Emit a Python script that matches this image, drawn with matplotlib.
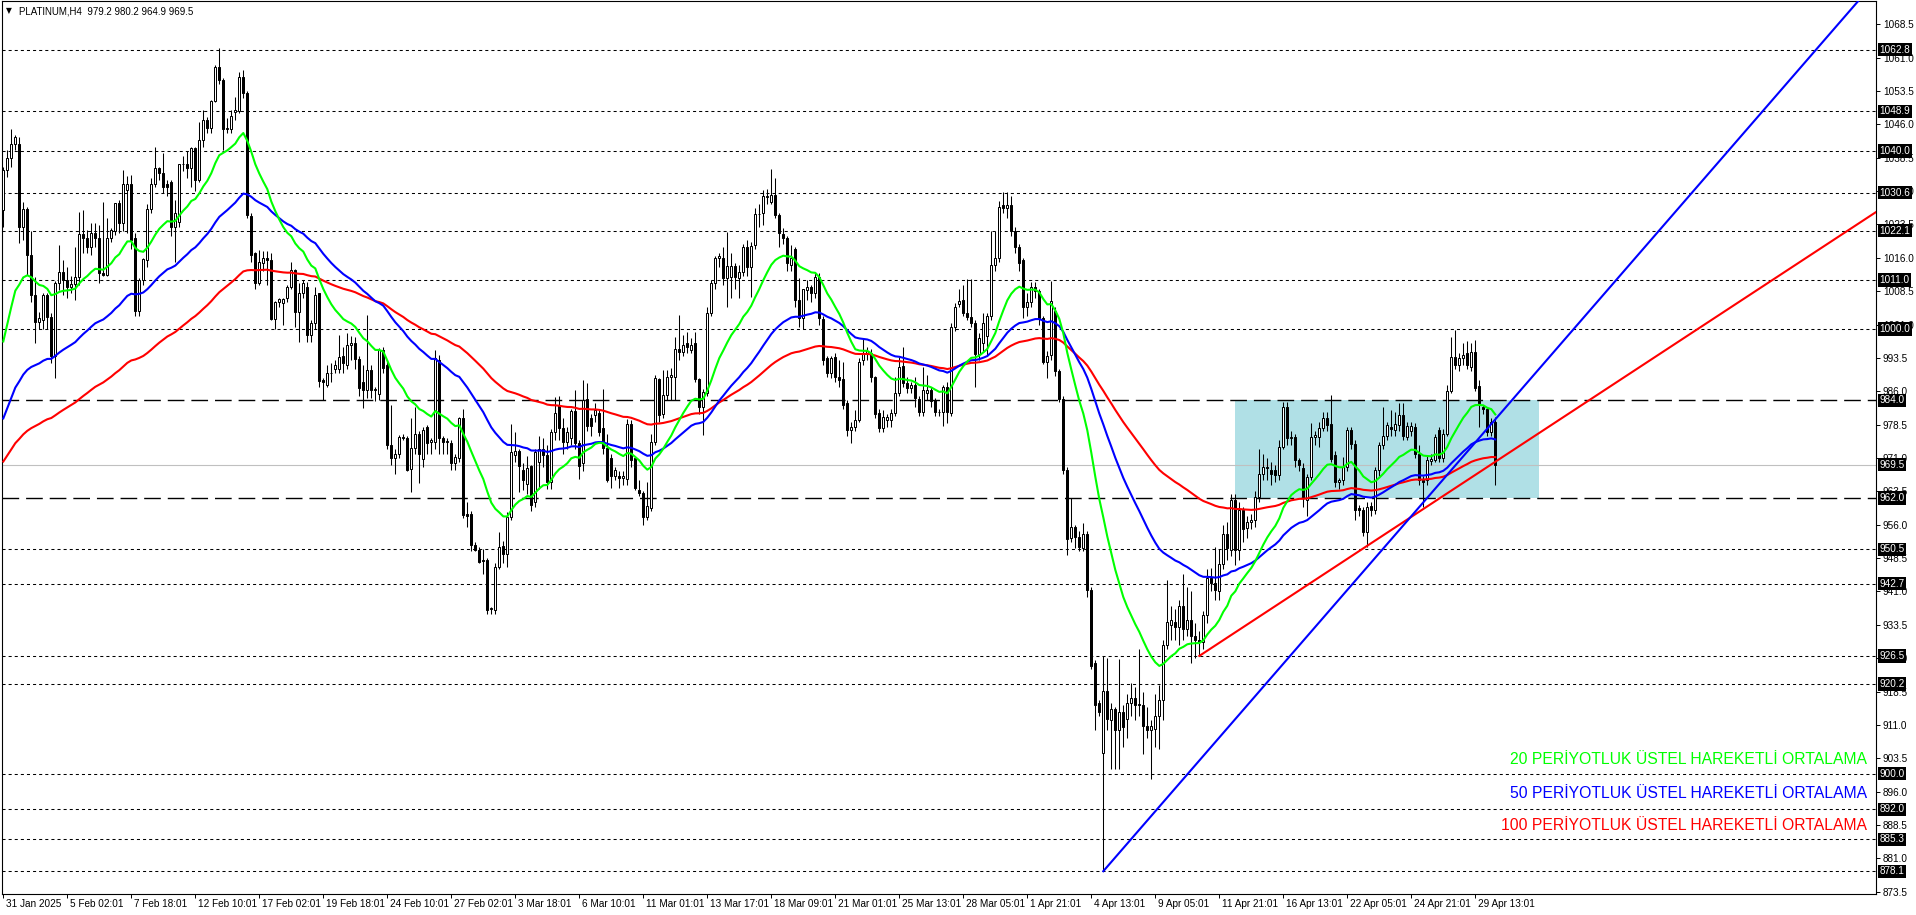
import numpy as np
import matplotlib
matplotlib.use("Agg")
import matplotlib.pyplot as plt
from matplotlib.patches import Rectangle
from matplotlib.transforms import blended_transform_factory

plt.rcParams['lines.scale_dashes'] = False
plt.rcParams['font.family'] = ['Liberation Sans', 'DejaVu Sans']

# ---------------- data (PLATINUM, H4) ----------------
opens = [
 1026.8,1035.8,1038.4,1041.5,1041.7,1023.0,1026.9,1016.6,1007.6,1001.6,
 1002.0,1007.6,1002.8,994.0,1010.3,1012.9,1011.0,1009.5,1010.2,1011.6,
 1021.3,1020.4,1018.5,1021.5,1020.4,1012.5,1012.2,1020.4,1022.0,1028.3,
 1023.9,1031.3,1032.5,1020.5,1004.0,1011.0,1015.6,1027.0,1032.7,1036.1,
 1035.0,1032.5,1033.0,1023.0,1024.0,1037.0,1037.2,1036.2,1040.6,1033.5,
 1042.5,1047.0,1045.1,1051.3,1058.8,1056.0,1044.9,1044.9,1048.8,1049.1,
 1056.6,1053.0,1025.4,1017.0,1010.3,1014.8,1015.9,1015.4,1002.2,1006.0,
 1005.8,1006.9,1009.5,1013.3,1003.9,1008.0,1009.5,998.6,1001.3,1008.0,
 988.5,987.4,990.0,991.0,991.0,994.0,992.0,996.5,996.8,993.2,
 988.0,986.3,990.8,986.3,985.4,995.3,992.0,974.0,970.9,972.0,
 975.8,975.5,968.6,973.2,976.5,970.7,978.0,974.5,974.7,993.0,
 975.6,974.6,974.3,969.8,971.0,980.0,958.5,958.5,951.4,950.3,
 948.0,948.0,937.0,936.8,946.6,951.2,949.4,957.8,971.7,972.6,
 968.2,965.2,969.1,961.0,970.0,973.0,971.7,965.7,976.9,983.0,
 977.7,974.7,975.4,981.5,974.3,969.8,984.2,979.9,980.7,981.2,
 977.7,973.2,970.9,967.0,967.0,966.5,966.2,978.6,970.9,963.8,
 963.1,957.8,959.7,974.7,988.7,981.0,985.2,989.3,989.3,995.4,
 994.9,996.8,995.3,996.8,988.7,982.5,985.5,1003.5,1010.3,1015.9,
 1016.0,1011.4,1011.8,1014.2,1011.4,1012.9,1018.4,1014.0,1018.9,1025.8,
 1026.0,1029.6,1028.6,1030.1,1025.6,1021.4,1020.4,1014.4,1017.9,1006.5,
 1002.4,1008.8,1009.5,1008.0,1011.8,1002.2,993.4,990.0,993.8,989.3,
 988.7,983.3,977.3,977.9,979.5,993.0,994.5,994.7,989.1,981.2,
 977.7,979.5,979.5,981.2,985.5,991.7,987.8,986.7,987.4,984.2,
 981.4,985.6,986.3,984.1,981.4,981.4,987.0,981.2,1000.4,1005.6,
 1006.5,1003.7,1002.8,1001.3,994.4,996.8,998.5,1003.0,1014.4,1015.9,
 1027.8,1027.1,1027.8,1022.1,1018.5,1015.4,1005.0,1006.1,1009.5,1008.6,
 1002.4,992.6,994.2,1004.0,990.5,984.3,968.3,953.0,955.4,953.3,
 950.7,953.8,941.4,924.8,916.0,904.6,918.6,912.0,914.5,909.8,
 914.0,912.4,916.0,917.0,915.5,915.5,910.8,909.8,910.0,912.9,
 916.5,929.0,933.5,934.1,933.1,937.8,932.6,934.6,931.0,930.0,
 929.7,935.7,944.0,942.8,941.0,947.1,953.8,950.3,961.5,950.3,
 959.3,955.2,956.7,957.0,962.3,967.5,969.0,968.4,968.4,967.2,
 973.5,982.4,975.4,975.8,970.5,968.7,961.5,966.8,975.8,975.8,
 977.7,979.9,978.6,971.7,965.5,966.0,969.0,977.3,974.1,959.7,
 959.3,954.4,960.2,959.4,968.3,973.9,975.9,978.0,977.2,978.4,
 980.7,975.8,977.0,978.0,971.9,966.1,966.1,970.4,970.6,977.3,
 970.9,976.5,986.1,993.8,991.9,993.4,994.5,991.5,994.9,987.2,
 982.5,982.0,976.9,979.2]
highs = [
 1036.5,1040.2,1044.9,1043.6,1043.2,1028.6,1027.5,1022.0,1011.8,1003.9,
 1008.0,1008.0,1003.5,1010.7,1018.9,1015.5,1014.0,1012.0,1018.5,1026.2,
 1026.7,1022.3,1023.8,1023.9,1023.4,1028.5,1024.9,1022.8,1028.3,1029.0,
 1035.7,1034.4,1034.6,1021.5,1011.5,1016.0,1028.0,1034.0,1041.0,1036.5,
 1039.5,1033.5,1033.5,1029.0,1037.1,1039.0,1040.0,1041.0,1041.0,1046.6,
 1049.2,1047.7,1051.5,1059.3,1063.1,1056.5,1047.4,1049.2,1052.2,1057.8,
 1058.2,1053.5,1026.0,1017.4,1017.7,1017.6,1017.5,1017.0,1006.2,1007.0,
 1007.0,1010.0,1015.1,1013.5,1010.3,1011.0,1010.5,1002.0,1009.5,1008.0,
 989.0,992.0,992.3,993.0,998.6,996.0,999.0,998.5,998.3,994.0,
 991.9,1003.1,992.0,987.0,995.8,996.0,993.0,982.9,973.0,976.2,
 976.5,976.0,979.9,982.5,977.0,978.0,978.4,975.5,995.3,994.2,
 976.0,975.5,975.0,972.0,980.3,982.0,961.0,959.0,952.0,951.0,
 950.5,948.5,937.5,947.3,954.4,952.4,958.9,978.6,976.9,973.0,
 969.8,971.4,969.5,973.0,976.0,975.6,973.9,977.5,984.6,985.0,
 980.0,978.0,982.0,986.3,975.0,988.5,987.8,981.0,983.3,982.0,
 986.4,976.5,972.0,969.0,968.0,968.0,979.7,979.5,971.0,966.1,
 963.5,965.7,976.5,989.7,989.0,990.8,990.8,991.2,998.3,1003.1,
 998.6,999.4,998.0,999.4,989.0,986.5,1005.0,1011.0,1016.3,1017.0,
 1018.5,1021.9,1017.0,1014.8,1014.4,1019.0,1020.0,1019.6,1027.1,1028.0,
 1031.2,1031.4,1035.9,1033.9,1026.0,1022.6,1021.0,1018.9,1018.5,1011.4,
 1009.0,1011.0,1010.0,1012.5,1012.5,1003.0,994.0,994.0,994.5,993.0,
 992.6,984.0,979.0,981.8,993.5,997.9,996.0,995.5,989.5,982.0,
 981.8,981.0,982.0,989.3,993.8,996.0,989.3,988.0,989.3,985.0,
 991.5,989.7,987.0,984.5,982.0,987.5,988.0,1001.3,1005.8,1009.1,
 1009.9,1011.2,1011.2,1002.0,999.0,1003.5,1003.5,1022.1,1022.0,1028.8,
 1030.9,1030.9,1030.0,1023.0,1019.0,1016.0,1008.0,1010.5,1010.5,1009.0,
 1003.0,995.0,1010.7,1005.0,991.0,985.0,969.0,962.1,956.0,954.5,
 956.4,954.5,942.0,925.5,916.5,926.4,926.0,916.0,915.0,925.8,
 915.5,918.0,920.5,919.5,928.0,918.5,915.0,912.0,918.0,920.0,
 930.0,943.5,937.8,937.0,939.0,945.0,942.0,941.0,934.0,932.0,
 936.5,946.0,946.2,951.0,950.5,956.0,956.5,963.0,963.0,961.0,
 960.0,958.0,958.5,963.5,973.0,972.0,971.0,970.0,969.5,975.0,
 983.5,983.5,977.0,976.5,971.0,969.8,967.5,978.8,977.0,979.2,
 981.4,981.4,985.2,972.5,966.5,971.3,978.0,978.0,975.0,960.5,
 960.0,961.0,961.0,969.0,974.5,982.4,979.2,981.9,981.4,983.4,
 983.4,979.0,979.0,978.8,973.9,967.0,971.5,972.0,976.5,978.0,
 977.5,987.4,998.3,999.8,994.5,996.8,997.2,996.8,997.5,988.5,
 983.0,982.5,980.0,980.2]
lows = [
 1023.0,1034.2,1036.5,1040.2,1019.3,1020.0,1012.1,1006.0,996.8,1000.1,
 1000.0,1000.0,992.3,989.0,1008.8,1007.6,1006.9,1008.0,1006.6,1010.0,
 1017.0,1017.0,1016.6,1018.5,1010.3,1012.0,1012.0,1019.5,1021.2,1021.5,
 1022.0,1021.5,1018.0,1003.0,1003.0,1010.0,1014.0,1026.0,1032.0,1033.5,
 1030.5,1030.0,1021.0,1015.0,1023.0,1035.5,1034.0,1032.0,1031.0,1033.0,
 1041.0,1044.0,1044.0,1051.0,1055.0,1040.3,1044.0,1044.0,1047.0,1048.5,
 1052.0,1025.0,1015.0,1009.0,1010.0,1013.0,1010.0,1002.0,1000.1,1005.0,
 1000.9,1006.0,1009.0,1000.5,997.0,1007.0,997.0,997.0,1000.0,987.0,
 984.0,987.0,988.0,990.0,990.0,990.0,991.0,993.0,991.0,985.0,
 982.2,984.4,984.4,983.7,984.0,990.0,973.0,969.5,967.5,971.0,
 975.0,968.0,963.4,972.0,965.3,969.0,972.0,972.0,973.0,972.0,
 972.0,972.0,968.3,968.3,970.0,957.5,955.5,950.0,950.0,947.3,
 945.0,936.0,936.0,936.0,946.0,947.3,946.6,957.0,970.0,963.4,
 963.8,963.0,959.0,960.0,964.0,969.0,964.0,964.0,975.0,975.0,
 972.0,973.0,974.0,973.0,966.2,968.0,977.0,976.0,979.0,976.0,
 972.0,965.7,964.2,966.0,964.2,965.0,965.0,969.0,963.9,962.5,
 956.0,957.0,959.0,974.0,979.0,980.0,984.0,984.0,984.0,993.0,
 994.0,994.5,994.5,988.0,981.0,976.2,985.0,1003.0,1009.0,1014.0,
 1010.0,1005.0,1006.9,1009.0,1007.0,1012.0,1012.0,1007.3,1018.0,1023.0,
 1023.4,1028.0,1028.0,1025.0,1018.5,1019.0,1013.0,1013.0,1005.0,1000.5,
 1000.1,1006.5,1006.0,1007.0,1001.0,992.0,989.3,989.0,988.0,987.0,
 982.0,976.0,974.3,977.0,979.0,992.0,993.0,988.0,980.0,976.9,
 976.9,978.0,978.0,980.5,985.0,987.0,985.5,985.5,982.5,980.5,
 980.5,984.0,982.5,980.5,980.5,978.2,978.8,980.5,999.5,1005.0,
 1003.0,1002.0,1000.5,987.0,993.0,995.0,994.2,1002.0,1013.0,1015.0,
 1026.0,1025.0,1021.0,1017.0,1013.0,1002.4,1003.0,1005.0,1007.0,1001.0,
 992.1,989.0,993.0,989.5,983.5,967.5,949.1,952.0,950.7,950.0,
 950.0,939.8,923.5,909.8,913.0,878.1,909.8,901.0,901.0,901.0,
 906.0,908.0,913.0,912.0,913.0,904.5,908.0,898.9,906.0,905.6,
 912.0,928.0,930.0,930.0,929.0,930.0,931.0,925.0,926.0,926.5,
 928.0,934.0,941.0,939.0,939.0,946.0,948.0,949.0,947.0,948.0,
 952.0,953.0,955.0,955.5,961.0,966.0,966.0,965.0,965.5,966.0,
 973.0,974.0,974.0,969.0,968.0,960.0,958.0,966.0,974.0,973.5,
 977.0,977.0,970.0,964.5,964.0,965.0,968.0,973.0,957.0,958.0,
 953.5,951.0,958.0,958.5,967.0,973.0,975.0,976.0,976.0,977.0,
 975.0,975.0,976.0,971.0,965.0,960.0,965.0,969.5,970.0,970.0,
 970.0,976.0,985.5,991.0,990.5,992.0,991.0,990.5,986.0,978.0,
 981.0,976.0,976.0,964.9]
closes = [
 1035.8,1038.4,1041.5,1043.2,1023.0,1026.9,1016.6,1007.6,1001.6,1002.4,
 1007.6,1002.8,994.0,1010.3,1012.9,1011.0,1009.5,1010.2,1011.6,1021.3,
 1020.4,1018.5,1021.5,1020.4,1012.5,1012.2,1020.4,1022.3,1028.3,1023.9,
 1032.7,1032.5,1020.0,1004.0,1011.0,1015.7,1027.0,1032.7,1036.1,1035.0,
 1032.0,1032.0,1023.0,1026.0,1037.0,1037.2,1036.2,1040.6,1033.5,1042.5,
 1047.0,1045.1,1051.3,1058.8,1056.0,1044.9,1045.2,1047.9,1049.2,1056.7,
 1053.0,1025.6,1016.6,1010.3,1015.1,1015.9,1015.4,1002.2,1006.0,1006.7,
 1006.7,1009.5,1013.3,1003.9,1008.0,1010.3,998.6,1001.3,1007.6,988.2,
 988.0,990.0,990.2,992.0,993.8,992.3,996.5,996.9,993.2,986.7,
 986.3,990.8,986.3,986.6,995.3,991.2,973.9,970.9,972.0,975.8,
 975.5,968.3,973.2,976.5,972.0,977.4,974.3,975.0,993.4,975.4,
 974.7,974.8,969.8,971.3,980.0,958.2,958.0,951.4,950.3,947.7,
 947.9,936.8,937.2,946.6,950.9,949.4,957.8,972.4,972.6,969.1,
 966.1,968.7,960.4,972.4,973.0,971.7,965.5,976.9,981.2,977.7,
 974.7,976.9,981.5,974.3,969.1,984.0,978.2,978.1,981.9,976.9,
 973.2,966.1,967.0,968.4,966.5,967.0,978.6,970.5,964.2,963.1,
 957.8,960.1,974.7,988.9,980.7,985.2,989.3,989.6,995.4,994.9,
 996.4,996.0,996.4,988.7,982.5,985.9,1003.5,1010.3,1015.9,1016.3,
 1011.4,1014.2,1014.2,1011.8,1012.9,1018.4,1014.0,1018.7,1025.8,1025.9,
 1029.9,1029.9,1030.1,1025.6,1021.5,1020.4,1014.8,1015.9,1006.5,1002.4,
 1008.9,1009.4,1008.0,1011.8,1002.4,993.0,990.0,993.4,989.3,988.5,
 982.9,977.3,978.0,979.5,992.5,994.5,995.0,989.3,981.0,977.7,
 980.2,980.2,981.2,985.5,991.4,987.8,986.7,987.3,984.4,981.4,
 986.3,986.3,983.7,981.4,981.3,987.0,981.4,1000.5,1005.0,1006.4,
 1003.7,1002.8,1001.3,994.4,998.0,1001.4,1003.0,1014.4,1015.9,1027.5,
 1027.1,1027.8,1022.1,1018.5,1014.9,1005.0,1006.1,1009.5,1008.6,1002.4,
 992.6,994.0,1006.4,990.5,984.3,968.3,952.8,955.4,953.3,951.0,
 953.8,941.4,924.3,915.5,914.0,918.6,912.4,914.5,909.8,914.0,
 910.5,916.0,917.0,915.5,915.7,910.8,909.8,910.8,912.9,916.5,
 929.0,934.1,934.6,933.1,937.8,932.6,934.6,931.0,930.0,929.7,
 935.7,944.0,942.8,941.4,947.1,953.8,950.7,961.5,950.3,959.3,
 955.0,956.7,957.0,962.3,967.5,969.0,968.7,967.5,967.2,973.5,
 982.4,975.4,975.8,970.5,969.4,962.3,966.8,975.8,976.2,977.7,
 979.9,978.4,970.7,965.5,966.0,969.0,977.3,974.1,959.3,959.3,
 954.4,960.0,959.3,968.3,973.9,975.9,978.4,977.6,978.6,980.7,
 976.0,978.2,978.2,972.0,966.0,965.7,970.6,970.8,975.8,970.9,
 976.5,986.1,993.8,991.9,993.4,994.2,991.9,994.9,986.7,983.3,
 982.0,976.9,979.2,969.5]

# EMA values at the first visible bar (history before the window)
ema_start = {20: 997.2, 50: 979.9, 100: 970.2}
ema_colors = {20: '#00ff00', 50: '#0000ff', 100: '#ff0000'}
legend_texts = {20: '20 PERİYOTLUK ÜSTEL HAREKETLİ ORTALAMA',
                50: '50 PERİYOTLUK ÜSTEL HAREKETLİ ORTALAMA',
                100: '100 PERİYOTLUK ÜSTEL HAREKETLİ ORTALAMA'}

dotted_levels = [1062.8, 1048.9, 1040.0, 1030.6, 1022.1, 1011.0, 1000.0,
                 950.5, 942.7, 926.5, 920.2, 900.0, 892.0, 885.3, 878.1]
dashed_levels = [984.0, 962.0]
bid_level = 969.5

box_bars = (307.9, 383.9)
box_prices = (962.0, 984.0)

trend_blue = [(275, 878.1), (368, 974.5)]
trend_red = [(299, 926.5), (368, 967.2)]

date_labels = ['31 Jan 2025', '5 Feb 02:01', '7 Feb 18:01', '12 Feb 10:01', '17 Feb 02:01',
               '19 Feb 18:01', '24 Feb 10:01', '27 Feb 02:01', '3 Mar 18:01', '6 Mar 10:01',
               '11 Mar 01:01', '13 Mar 17:01', '18 Mar 09:01', '21 Mar 01:01', '25 Mar 13:01',
               '28 Mar 05:01', '1 Apr 21:01', '4 Apr 13:01', '9 Apr 05:01', '11 Apr 21:01',
               '16 Apr 13:01', '22 Apr 05:01', '24 Apr 21:01', '29 Apr 13:01']
bars_per_label = 16

price_ticks = [873.5 + 7.5 * k for k in range(27)]

title = 'PLATINUM,H4  979.2 980.2 964.9 969.5'

# ---------------- figure ----------------
W, H = 1916, 915
fig = plt.figure(figsize=(W / 100, H / 100), dpi=100)
fig.patch.set_facecolor('white')
L_px, R_px, T_px, B_px = 2, 1876, 1, 894
ax = fig.add_axes([L_px / W, 1 - B_px / H, (R_px - L_px) / W, (B_px - T_px) / H])
ax.set_facecolor('white')

n = len(closes)
x = np.arange(n)
xmin = -0.325
xmax = xmin + (R_px - L_px) / 4.0
ytop = 1073.74
ybot = ytop - (B_px - T_px) / 4.448
ax.set_xlim(xmin, xmax)
ax.set_ylim(ybot, ytop)

FS = 7.2

# background rectangle
ax.add_patch(Rectangle((box_bars[0], box_prices[0]), box_bars[1] - box_bars[0],
                       box_prices[1] - box_prices[0], facecolor='#b0e0e6',
                       edgecolor='none', zorder=0.5))

# horizontal lines
for lv in dotted_levels:
    ax.axhline(lv, color='black', lw=0.75, linestyle=(0, (2.2, 2.2)), zorder=1)
for lv in dashed_levels:
    ax.axhline(lv, color='black', lw=1.0, linestyle=(0, (12.0, 5.0)), zorder=1)
ax.axhline(bid_level, color='#c0c0c0', lw=0.8, zorder=1.2)

# candles
o = np.array(opens); h = np.array(highs); l = np.array(lows); c = np.array(closes)
ax.vlines(x, l, h, color='black', lw=0.75, zorder=3)
up = c >= o
body_bottom = np.minimum(o, c)
body_h = np.maximum(np.abs(c - o), 0.08)
ax.bar(x[up], body_h[up], bottom=body_bottom[up], width=0.5, color='white',
       edgecolor='black', linewidth=0.72, zorder=3.5)
ax.bar(x[~up], body_h[~up], bottom=body_bottom[~up], width=0.5, color='black',
       edgecolor='black', linewidth=0.72, zorder=3.5)

# EMAs computed from closes
def ema(vals, period, start):
    k = 2.0 / (period + 1)
    out = [start]
    for v in vals[1:]:
        out.append(out[-1] + k * (v - out[-1]))
    return np.array(out)

for p in (100, 50, 20):
    ax.plot(x, ema(closes, p, ema_start[p]), color=ema_colors[p], lw=1.5, zorder=5)

# trend lines (rays)
for (p1, p2), col in ((trend_red, '#ff0000'), (trend_blue, '#0000ff')):
    (x1, y1), (x2, y2) = p1, p2
    s = (y2 - y1) / (x2 - x1)
    xe = xmax
    ax.plot([x1, xe], [y1, y1 + s * (xe - x1)], color=col, lw=1.5, zorder=6)

# spines / ticks
for sp in ax.spines.values():
    sp.set_color('black'); sp.set_linewidth(0.8)
ax.yaxis.tick_right()
ax.set_yticks(price_ticks)
ax.set_yticklabels([f'{v:.1f}' for v in price_ticks])
ax.tick_params(axis='y', direction='out', length=3, width=0.7, pad=2, labelsize=FS,
               colors='black')
tick_bars = [k * bars_per_label for k in range(len(date_labels))]
ax.set_xticks(tick_bars)
ax.set_xticklabels([])
ax.tick_params(axis='x', direction='out', length=3, width=0.7)

tr_x = blended_transform_factory(ax.transData, ax.transAxes)
for tb, lab in zip(tick_bars, date_labels):
    ax.text(tb + 0.6, -(904 - B_px) / (B_px - T_px), lab, transform=tr_x, ha='left',
            va='center', fontsize=FS, clip_on=False)

# price boxes on the right axis
tr_y = blended_transform_factory(ax.transAxes, ax.transData)
for lv in dotted_levels + dashed_levels + [bid_level]:
    ax.text(1 + 3.5 / (R_px - L_px), lv, f'{lv:.1f}', transform=tr_y, ha='left', va='center',
            fontsize=FS, color='white', clip_on=False, zorder=10,
            bbox=dict(boxstyle='square,pad=0.16', fc='black', ec='none'))

# title
fig.text(6 / W, 1 - 11 / H, '▼', fontsize=5.5, va='center', ha='left',
         family=['DejaVu Sans'])
fig.text(19 / W, 1 - 11 / H, title, fontsize=7.0, va='center', ha='left')

# legend texts
for p, ypx in ((20, 759), (50, 793), (100, 826)):
    fig.text(1867 / W, 1 - ypx / H, legend_texts[p], color=ema_colors[p], fontsize=11.3,
             ha='right', va='center', family=['Liberation Sans', 'DejaVu Sans'])

fig.savefig('out.png', dpi=100)
